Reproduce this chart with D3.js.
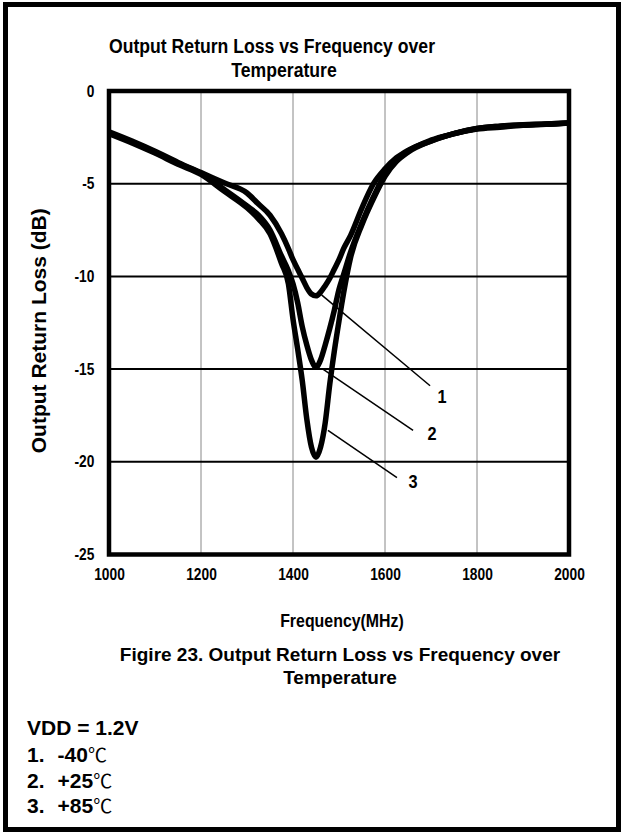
<!DOCTYPE html>
<html>
<head>
<meta charset="utf-8">
<script src="https://cdn.jsdelivr.net/npm/d3@7"></script>
<style>
  body { margin: 0; background: #fff; }
  text { font-family: "Liberation Sans", Arial, "Noto Sans CJK SC", sans-serif; font-weight: bold; fill: #000; }
</style>
</head>
<body>
<div id="chart"></div>
<script>
// frequency points (MHz)
var freqs = [1000,1050,1100,1150,1200,1250,1300,1325,1350,1375,1390,1400,1410,1420,1430,1440,1450,
             1460,1470,1480,1490,1500,1510,1525,1550,1575,1600,1625,1650,1700,1750,1800,1850,1900,1950,2000];

// return loss (dB) per temperature
var lossM40 = [-2.2,-2.7,-3.25,-3.85,-4.4,-4.95,-5.5,-6.1,-6.7,-7.7,-8.5,-9.1,-9.6,-10.1,-10.6,-10.95,-11.05,
               -10.85,-10.5,-10.1,-9.6,-9.1,-8.5,-7.8,-6.3,-5.0,-4.2,-3.6,-3.2,-2.7,-2.3,-2.05,-1.95,-1.85,-1.8,-1.72];
var loss25  = [-2.25,-2.75,-3.3,-3.9,-4.45,-5.3,-6.2,-6.7,-7.5,-8.9,-9.7,-10.4,-11.4,-12.7,-13.7,-14.5,-14.9,
               -14.5,-13.7,-12.8,-11.8,-10.7,-9.9,-8.7,-7.1,-5.7,-4.5,-3.75,-3.25,-2.65,-2.3,-2.02,-1.9,-1.83,-1.78,-1.72];
var loss85  = [-2.3,-2.8,-3.35,-3.95,-4.5,-5.4,-6.3,-6.9,-7.7,-9.3,-10.4,-12.3,-13.9,-15.6,-17.7,-19.2,-19.75,
               -19.2,-17.9,-15.8,-14.0,-12.4,-10.9,-9.0,-7.2,-5.8,-4.6,-3.8,-3.3,-2.7,-2.3,-2.02,-1.9,-1.82,-1.78,-1.72];

var seriesLabels = ["1", "2", "3"];
var tempLabels = ["-40", "+25", "+85"];

var xTicks = [1000, 1200, 1400, 1600, 1800, 2000];
var yTicks = [0, -5, -10, -15, -20, -25];

// callout leader lines in data units: [freq, dB]
var calloutFrom = [[1462, -11.0], [1465, -15.0], [1476, -18.3]];
var calloutTo   = [[1698, -15.9], [1661, -18.3], [1626, -20.85]];
var calloutText = [[1724, -16.85], [1702, -18.8], [1661, -21.4]];

function init() {
    var w = 624;
    var h = 834;
    var left = 109, right = 569, top = 91, bottom = 554.5;
    var squeeze = 0.86;   // chart text is horizontally narrowed in the original

    var svg = d3.select("#chart")
        .append("svg")
        .attr("width", w)
        .attr("height", h);

    // outer border
    svg.append("rect")
        .attr("x", 5.5).attr("y", 4.5)
        .attr("width", 613).attr("height", 825)
        .attr("fill", "none")
        .attr("stroke", "#000")
        .attr("stroke-width", 5);

    var x = d3.scaleLinear().domain([1000, 2000]).range([left, right]);
    var y = d3.scaleLinear().domain([-25, 0]).range([bottom, top]);

    // vertical grid (grey)
    svg.append("g")
        .selectAll("line")
        .data(xTicks.slice(1, -1))
        .enter()
        .append("line")
        .attr("x1", function(d) { return x(d); })
        .attr("x2", function(d) { return x(d); })
        .attr("y1", top).attr("y2", bottom)
        .attr("stroke", "#888")
        .attr("stroke-width", 1);

    // horizontal grid (black)
    svg.append("g")
        .selectAll("line")
        .data(yTicks.slice(1, -1))
        .enter()
        .append("line")
        .attr("x1", left).attr("x2", right)
        .attr("y1", function(d) { return y(d); })
        .attr("y2", function(d) { return y(d); })
        .attr("stroke", "#000")
        .attr("stroke-width", 2);

    // curves
    var series = [lossM40, loss25, loss85];
    var line = d3.line()
        .x(function(d, i) { return x(freqs[i]); })
        .y(function(d) { return y(d); })
        .curve(d3.curveMonotoneX);

    svg.append("g")
        .selectAll("path")
        .data(series)
        .enter()
        .append("path")
        .attr("d", line)
        .attr("fill", "none")
        .attr("stroke", "#000")
        .attr("stroke-width", 5.5)
        .attr("stroke-linejoin", "round");

    // plot frame
    svg.append("rect")
        .attr("x", left).attr("y", top)
        .attr("width", right - left).attr("height", bottom - top)
        .attr("fill", "none")
        .attr("stroke", "#000")
        .attr("stroke-width", 4.5);

    // axes (labels only)
    var xAxis = svg.append("g")
        .attr("transform", "translate(0," + bottom + ")")
        .call(d3.axisBottom(x).tickValues(xTicks).tickFormat(d3.format("d")).tickSize(0).tickPadding(14));
    xAxis.select(".domain").remove();
    xAxis.selectAll("text")
        .attr("font-size", "16px")
        .attr("dy", "0.71em")
        .attr("transform", "scale(" + squeeze + ",1)");

    var yAxis = svg.append("g")
        .attr("transform", "translate(" + left + ",0)")
        .call(d3.axisLeft(y).tickValues(yTicks).tickFormat(function(d) { return String(d); }).tickSize(0).tickPadding(17));
    yAxis.select(".domain").remove();
    yAxis.selectAll("text")
        .attr("font-size", "16px")
        .attr("transform", "scale(" + squeeze + ",1)");
    svg.selectAll(".tick text")
        .style("font-family", '"Liberation Sans", Arial, sans-serif')
        .style("font-weight", "bold");

    // callouts
    svg.append("g")
        .selectAll("line")
        .data(calloutFrom)
        .enter()
        .append("line")
        .attr("x1", function(d) { return x(d[0]); })
        .attr("y1", function(d) { return y(d[1]); })
        .attr("x2", function(d, i) { return x(calloutTo[i][0]); })
        .attr("y2", function(d, i) { return y(calloutTo[i][1]); })
        .attr("stroke", "#000")
        .attr("stroke-width", 1.5);

    svg.append("g")
        .selectAll("text")
        .data(seriesLabels)
        .enter()
        .append("text")
        .text(function(d) { return d; })
        .attr("transform", function(d, i) {
            return "translate(" + x(calloutText[i][0]) + "," + y(calloutText[i][1]) + ") scale(" + squeeze + ",1)";
        })
        .attr("text-anchor", "middle")
        .attr("font-size", "19px");

    // chart title
    var title = ["Output Return Loss vs Frequency over", "Temperature"];
    var titleX = [272, 284];
    svg.selectAll(".title")
        .data(title)
        .enter()
        .append("text")
        .attr("class", "title")
        .text(function(d) { return d; })
        .attr("transform", function(d, i) {
            return "translate(" + titleX[i] + "," + (53 + i * 24) + ") scale(" + squeeze + ",1)";
        })
        .attr("text-anchor", "middle")
        .attr("font-size", "20.5px");

    svg.append("text")
        .text("Output Return Loss (dB)")
        .attr("transform", "translate(46," + ((top + bottom) / 2 + 8) + ") rotate(-90)")
        .attr("text-anchor", "middle")
        .attr("font-size", "21px");

    svg.append("text")
        .text("Frequency(MHz)")
        .attr("transform", "translate(" + ((left + right) / 2 + 3) + ",627) scale(" + squeeze + ",1)")
        .attr("text-anchor", "middle")
        .attr("font-size", "18.5px");

    // figure caption
    var caption = ["Figire 23. Output Return Loss vs Frequency over", "Temperature"];
    svg.selectAll(".caption")
        .data(caption)
        .enter()
        .append("text")
        .attr("class", "caption")
        .text(function(d) { return d; })
        .attr("x", 340)
        .attr("y", function(d, i) { return 661 + i * 23; })
        .attr("text-anchor", "middle")
        .attr("font-size", "19px");

    // notes
    svg.append("text")
        .text("VDD = 1.2V")
        .attr("x", 27).attr("y", 735)
        .attr("font-size", "21px");

    var notes = svg.selectAll(".note")
        .data(tempLabels)
        .enter()
        .append("text")
        .attr("class", "note")
        .attr("x", 27)
        .attr("y", function(d, i) { return 762 + i * 25.5; })
        .attr("font-size", "21px");
    notes.append("tspan").text(function(d, i) { return seriesLabels[i] + "."; });
    notes.append("tspan").attr("dx", 13).text(function(d) { return d; });
    notes.append("tspan")
        .text("\u2103")
        .style("font-family", '"Noto Sans CJK SC", sans-serif')
        .style("font-weight", "normal")
        .attr("font-size", "19px");
}
window.onload = init;
</script>
</body>
</html>
